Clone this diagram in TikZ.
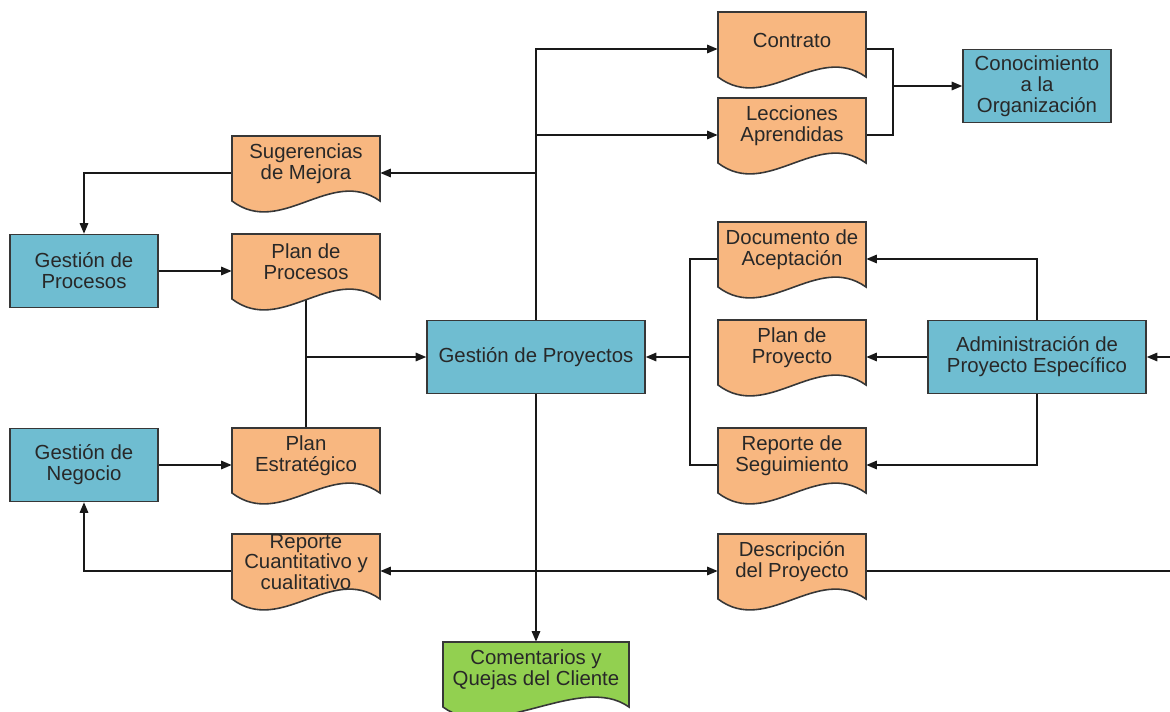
\documentclass[tikz,border=0pt]{standalone}
\usepackage{fontspec}
\setmainfont{Liberation Sans}
\usetikzlibrary{arrows.meta,backgrounds}

\definecolor{procblue}{RGB}{111,189,209}
\definecolor{docorange}{RGB}{248,183,128}
\definecolor{docgreen}{RGB}{146,208,80}
\definecolor{edgegray}{RGB}{55,55,55}
\definecolor{inkgray}{RGB}{40,40,40}

\tikzset{
  proc/.style={draw=edgegray, line width=0.9pt, fill=procblue, minimum width=2.96cm,
    minimum height=1.46cm, align=center, text=inkgray, inner sep=1pt},
  docline/.style={draw=edgegray, line width=0.9pt},
  docbody/.style={rectangle, minimum height=1.48cm, inner sep=0pt},
  doctext/.style={align=center, text=inkgray, yshift=0.18cm, inner sep=0pt},
  conn/.style={line width=0.8pt, draw=black!90},
}

% document shape: [fill]{name}{centre x}{top y}{width}{text}
\newcommand{\docnode}[6][docorange]{%
  \filldraw[docline, fill=#1] (#3-#5/2,#4) -- (#3+#5/2,#4) -- (#3+#5/2,#4+65)
    .. controls (#3+#5/2-49,#4+30) and (#3-#5/2+49,#4+102) .. (#3-#5/2,#4+65) -- cycle;
  \node[docbody, minimum width=#5*0.02cm, label={[doctext]center:{#6}}] (#2) at (#3,#4+37) {};
}

\begin{document}
\begin{tikzpicture}[x=0.02cm, y=-0.02cm, font=\fontsize{11.6pt}{11.9pt}\selectfont,
  >={Triangle[length=2.1mm,width=1.7mm]}]
\useasboundingbox (0,0) rectangle (1170,711);

% procesos
\node[proc] (gproc) at (84,271) {Gestión de\\Procesos};
\node[proc] (gneg) at (84,465) {Gestión de\\Negocio};
\node[proc, minimum width=4.36cm] (gproy) at (536,357) {Gestión de Proyectos};
\node[proc, minimum width=4.36cm] (admin) at (1037,357) {Administración de\\Proyecto Específico};
\node[proc] (conoc) at (1037,86) {Conocimiento\\a la\\Organización};

% documentos
\docnode{sug}{306}{136}{148}{Sugerencias\\de Mejora}
\docnode{planproc}{306}{234}{148}{Plan de\\Procesos}
\docnode{planest}{306}{428}{148}{Plan\\Estratégico}
\docnode{repcuant}{306}{534}{148}{Reporte\\Cuantitativo y\\cualitativo}
\docnode{contrato}{792}{12}{148}{Contrato}
\docnode{lecc}{792}{98}{148}{Lecciones\\Aprendidas}
\docnode{docacep}{792}{222}{148}{Documento de\\Aceptación}
\docnode{planproy}{792}{320}{148}{Plan de\\Proyecto}
\docnode{repseg}{792}{428}{148}{Reporte de\\Seguimiento}
\docnode{desc}{792}{534}{148}{Descripción\\del Proyecto}
\docnode[docgreen]{coment}{536}{642}{186}{Comentarios y\\Quejas del Cliente}

\coordinate (merge) at (893,86);
\coordinate (split) at (690,357);
\coordinate (fromright) at (1175,357);
\coordinate (toright) at (1175,571);

% conexiones
\begin{scope}[on background layer]
\draw[conn,->] (gproy.north) |- (contrato.west);
\draw[conn,->] (gproy.north) |- (lecc.west);
\draw[conn,->] (gproy.north) |- (sug.east);
\draw[conn,->] (sug.west) -| (gproc.north);
\draw[conn,->] (gproc.east) -- (planproc.west);
\draw[conn] (planproc.center) -- (planest.center);
\draw[conn,->] (planproc.center |- gproy.west) -- (gproy.west);
\draw[conn,->] (gneg.east) -- (planest.west);
\draw[conn,->] (repcuant.west) -| (gneg.south);
\draw[conn,<->] (repcuant.east) -- (desc.west);
\draw[conn] (desc.east) -- (toright);
\draw[conn,->] (gproy.south) -- (coment.north);
\draw[conn] (contrato.east) -| (merge) |- (lecc.east);
\draw[conn,->] (merge) -- (conoc.west);
\draw[conn,->] (admin.north) |- (docacep.east);
\draw[conn,->] (admin.west) -- (planproy.east);
\draw[conn,->] (admin.south) |- (repseg.east);
\draw[conn] (docacep.west) -| (split) |- (repseg.west);
\draw[conn,->] (split) -- (gproy.east);
\draw[conn,->] (fromright) -- (admin.east);
\end{scope}
\end{tikzpicture}
\end{document}
